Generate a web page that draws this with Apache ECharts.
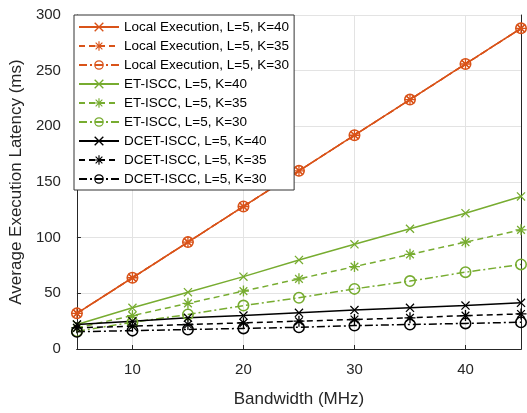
<!DOCTYPE html>
<html>
<head>
<meta charset="utf-8">
<script src="https://cdn.jsdelivr.net/npm/echarts@6/dist/echarts.min.js"></script>
<style>
html, body { margin: 0; padding: 0; background: #fff; }
#chart { width: 527px; height: 413px; }
</style>
</head>
<body>
<div id="chart"></div>
<script>
const bandwidth = [5, 10, 15, 20, 25, 30, 35, 40, 45];
const localK40 = [32, 64, 96, 128, 160, 192, 224, 256, 288];
const localK35 = [32, 64, 96, 128, 160, 192, 224, 256, 288];
const localK30 = [32, 64, 96, 128, 160, 192, 224, 256, 288];
const etK40 = [22, 37, 51, 65, 80, 94, 108, 122, 137];
const etK35 = [19, 30, 41, 52, 63, 74, 85, 96, 107];
const etK30 = [16, 24, 31, 39, 46, 54, 61, 69, 76];
const dcetK40 = [22, 25, 28, 30, 32.5, 35, 37, 39, 41.5];
const dcetK35 = [19, 20.5, 22, 23.5, 25, 26.5, 28, 30, 31.5];
const dcetK30 = [15.5, 16.5, 17.5, 18.5, 19.5, 21, 22, 23, 24];

const orange = '#D95319', green = '#77AC30', black = '#000000';
const xMark = 'path://M0,1 L1,0 L10,9 L9,10 Z M9,0 L10,1 L1,10 L0,9 Z';
const starMark = 'path://M4.4,0 L5.6,0 L5.6,10 L4.4,10 Z M0,4.4 L10,4.4 L10,5.6 L0,5.6 Z M1.1,1.9 L1.9,1.1 L8.9,8.1 L8.1,8.9 Z M8.1,1.1 L8.9,1.9 L1.9,8.9 L1.1,8.1 Z';
const ringMark = 'path://M5,0 A5,5 0 1 1 5,10 A5,5 0 1 1 5,0 Z M5,1.3 A3.7,3.7 0 1 0 5,8.7 A3.7,3.7 0 1 0 5,1.3 Z';

const dash = [6, 4], dashDot = [8, 3, 2, 3];

function mk(name, data, color, sym, size, type) {
    return {
        name, type: 'line', data: bandwidth.map((b, i) => [b, data[i]]),
        symbol: sym, symbolSize: size, showSymbol: true,
        itemStyle: { color },
        lineStyle: { color, width: 1.5, type },
        emphasis: { disabled: true }, animation: false
    };
}

const series = [
    mk('Local Execution, L=5, K=40', localK40, orange, xMark, 9, 'solid'),
    mk('Local Execution, L=5, K=35', localK35, orange, starMark, 11, dash),
    mk('Local Execution, L=5, K=30', localK30, orange, ringMark, 12, dashDot),
    mk('ET-ISCC, L=5, K=40', etK40, green, xMark, 9, 'solid'),
    mk('ET-ISCC, L=5, K=35', etK35, green, starMark, 11, dash),
    mk('ET-ISCC, L=5, K=30', etK30, green, ringMark, 12, dashDot),
    mk('DCET-ISCC, L=5, K=40', dcetK40, black, xMark, 9, 'solid'),
    mk('DCET-ISCC, L=5, K=35', dcetK35, black, starMark, 11, dash),
    mk('DCET-ISCC, L=5, K=30', dcetK30, black, ringMark, 12, dashDot)
];

const font = 'Liberation Sans, Arial, Helvetica, sans-serif';
const axisCol = '#262626';

const chart = echarts.init(document.getElementById('chart'));
chart.setOption({
    animation: false,
    backgroundColor: '#fff',
    grid: { left: 74, right: 6, top: 15, bottom: 58 },
    legend: {
        orient: 'vertical', left: 74, top: 15,
        itemWidth: 40, itemHeight: 12, itemGap: 5,
        padding: [5, 5, 4, 4],
        backgroundColor: '#fff', borderColor: '#333', borderWidth: 1, borderRadius: 0,
        textStyle: { fontFamily: font, fontSize: 13.5, color: '#000' },
        data: series.map(s => s.name)
    },
    xAxis: [{
        type: 'value', min: 5, max: 45, splitNumber: 4,
        name: 'Bandwidth (MHz)', nameLocation: 'middle', nameGap: 42,
        nameTextStyle: { fontFamily: font, fontSize: 17, color: axisCol },
        axisLine: { lineStyle: { color: axisCol, width: 1 } },
        axisTick: { inside: true, length: 4, lineStyle: { color: axisCol } },
        axisLabel: { fontFamily: font, fontSize: 15, color: axisCol, margin: 13, showMinLabel: false, showMaxLabel: false },
        splitLine: { show: true, lineStyle: { color: '#e3e3e3' } }
    }, {
        type: 'value', position: 'top', min: 5, max: 45, splitNumber: 4,
        axisLine: { show: true, lineStyle: { color: axisCol } },
        axisTick: { show: false }, axisLabel: { show: false }, splitLine: { show: false }
    }],
    yAxis: [{
        type: 'value', min: 0, max: 300, interval: 50,
        name: 'Average Execution Latency (ms)', nameLocation: 'middle', nameGap: 50,
        nameTextStyle: { fontFamily: font, fontSize: 17, color: axisCol },
        axisLine: { show: true, lineStyle: { color: axisCol, width: 1 } },
        axisTick: { show: true, inside: true, length: 4, lineStyle: { color: axisCol } },
        axisLabel: { fontFamily: font, fontSize: 15, color: axisCol, margin: 16 },
        splitLine: { show: true, lineStyle: { color: '#e3e3e3' } }
    }, {
        type: 'value', position: 'right', min: 0, max: 300, interval: 50,
        axisLine: { show: true, lineStyle: { color: axisCol } },
        axisTick: { show: false }, axisLabel: { show: false }, splitLine: { show: false }
    }],
    series
});
</script>
</body>
</html>
